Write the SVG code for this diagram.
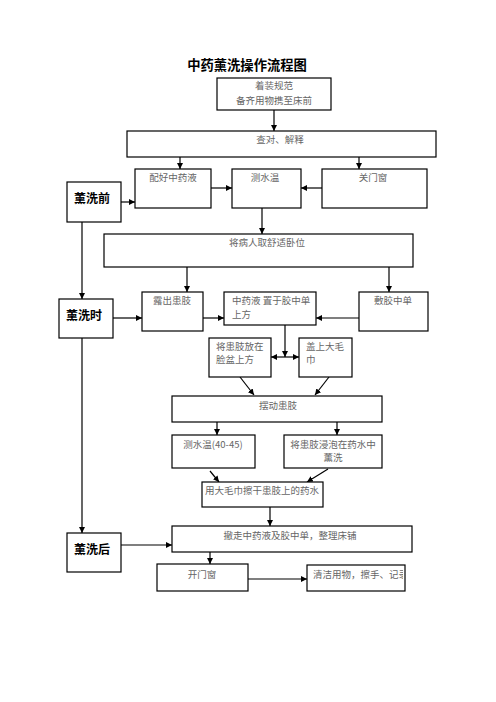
<svg xmlns="http://www.w3.org/2000/svg" width="496" height="702" viewBox="0 0 496 702">
<style>
.b{fill:#fff;stroke:#000;stroke-width:1.2}
.t{font-family:"Noto Sans CJK SC","Liberation Serif",serif;font-size:9.5px;fill:#666}
.c{text-anchor:middle}
.h{font-family:"Noto Sans CJK SC",sans-serif;font-size:12px;font-weight:bold;fill:#000;text-anchor:middle}
.l{stroke:#000;stroke-width:1.2;fill:none}
</style>
<defs>
<marker id="a" viewBox="0 0 10 10" refX="10" refY="5" markerWidth="6" markerHeight="6" orient="auto-start-reverse" markerUnits="userSpaceOnUse">
<path d="M0,0L10,5L0,10z" fill="#000"/>
</marker>
<clipPath id="cl"><rect x="307" y="565" width="96" height="26"/></clipPath>
</defs>
<rect width="496" height="702" fill="#fff"/>
<text x="247" y="70" class="h" style="font-size:13.3px">中药薰洗操作流程图</text>
<g id="connectors">
<path class="l" marker-end="url(#a)" d="M274,110V131"/>
<path class="l" marker-end="url(#a)" d="M180,157V169"/>
<path class="l" marker-end="url(#a)" d="M359,157V169"/>
<path class="l" marker-end="url(#a)" d="M211,188H232"/>
<path class="l" marker-end="url(#a)" d="M322,188H301"/>
<path class="l" marker-end="url(#a)" d="M121,202H135"/>
<path class="l" marker-end="url(#a)" d="M262,208V234"/>
<path class="l" marker-end="url(#a)" d="M187,267V292"/>
<path class="l" marker-end="url(#a)" d="M389,267V292"/>
<path class="l" marker-end="url(#a)" d="M82,222V299"/>
<path class="l" marker-end="url(#a)" d="M113,318H142"/>
<path class="l" marker-end="url(#a)" d="M203,318H224"/>
<path class="l" marker-end="url(#a)" d="M359,318H316"/>
<path class="l" marker-end="url(#a)" d="M285,325V357"/>
<path class="l" marker-start="url(#a)" marker-end="url(#a)" d="M271,357H299"/>
<path class="l" marker-end="url(#a)" d="M240,377L254,395"/>
<path class="l" marker-end="url(#a)" d="M329,377L315,395"/>
<path class="l" marker-end="url(#a)" d="M217,422V435"/>
<path class="l" marker-end="url(#a)" d="M337,422V435"/>
<path class="l" marker-end="url(#a)" d="M210,471L219,482"/>
<path class="l" marker-end="url(#a)" d="M328,469L307,482"/>
<path class="l" marker-end="url(#a)" d="M82,338V533"/>
<path class="l" marker-end="url(#a)" d="M270,507V526"/>
<path class="l" marker-end="url(#a)" d="M121,545H172"/>
<path class="l" marker-end="url(#a)" d="M210,552V564"/>
<path class="l" marker-end="url(#a)" d="M248,579H307"/>
</g>
<g id="n1"><rect class="b" x="217" y="78" width="114" height="32"/><text class="t c" x="274" y="89">着装规范</text><text class="t c" x="274" y="104">备齐用物携至床前</text></g>
<g id="n2"><rect class="b" x="127" y="131" width="309" height="26"/><text class="t c" x="280" y="143">查对、解释</text></g>
<g id="n3"><rect class="b" x="135" y="169" width="76" height="39"/><text class="t c" x="173" y="181">配好中药液</text></g>
<g id="n4"><rect class="b" x="232" y="169" width="69" height="39"/><text class="t c" x="265" y="181">测水温</text></g>
<g id="n5"><rect class="b" x="322" y="169" width="105" height="39"/><text class="t c" x="373" y="181">关门窗</text></g>
<g id="n6"><rect class="b" x="67" y="182" width="54" height="40"/><text class="h" x="92" y="203">薰洗前</text></g>
<g id="n7"><rect class="b" x="104" y="234" width="309" height="33"/><text class="t c" x="267" y="246">将病人取舒适卧位</text></g>
<g id="n8"><rect class="b" x="142" y="292" width="61" height="39"/><text class="t c" x="172" y="304">露出患肢</text></g>
<g id="n9"><rect class="b" x="224" y="292" width="92" height="33"/><text class="t" x="232" y="304">中药液 置于胶中单</text><text class="t" x="232" y="318">上方</text></g>
<g id="n10"><rect class="b" x="359" y="292" width="69" height="39"/><text class="t c" x="393" y="304">敷胶中单</text></g>
<g id="n11"><rect class="b" x="59" y="299" width="54" height="39"/><text class="h" x="84" y="320">薰洗时</text></g>
<g id="n12"><rect class="b" x="209" y="338" width="62" height="39"/><text class="t" x="216" y="350">将患肢放在</text><text class="t" x="216" y="363">脸盆上方</text></g>
<g id="n13"><rect class="b" x="299" y="338" width="53" height="39"/><text class="t" x="306" y="350">盖上大毛</text><text class="t" x="306" y="363">巾</text></g>
<g id="n14"><rect class="b" x="172" y="396" width="210" height="26"/><text class="t c" x="278" y="409">摆动患肢</text></g>
<g id="n15"><rect class="b" x="172" y="435" width="83" height="33"/><text class="t c" x="213" y="448">测水温(40-45)</text></g>
<g id="n16"><rect class="b" x="284" y="435" width="98" height="33"/><text class="t c" x="333" y="448">将患肢浸泡在药水中</text><text class="t c" x="333" y="461">薰洗</text></g>
<g id="n17"><rect class="b" x="202" y="482" width="121" height="25"/><text class="t c" x="262" y="494">用大毛巾擦干患肢上的药水</text></g>
<g id="n18"><rect class="b" x="172" y="526" width="240" height="26"/><text class="t c" x="290" y="539">撤走中药液及胶中单，整理床铺</text></g>
<g id="n19"><rect class="b" x="67" y="533" width="54" height="39"/><text class="h" x="92" y="554">薰洗后</text></g>
<g id="n20"><rect class="b" x="157" y="564" width="91" height="27"/><text class="t c" x="202" y="578">开门窗</text></g>
<g id="n21"><rect class="b" x="307" y="565" width="98" height="26"/><text class="t" x="313" y="578" clip-path="url(#cl)">清洁用物，擦手、记录</text></g>
</svg>
